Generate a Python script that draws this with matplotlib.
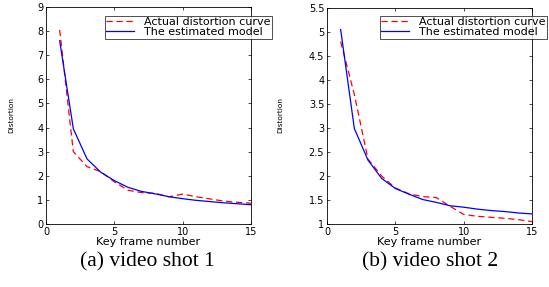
import matplotlib
matplotlib.use("Agg")
import matplotlib.pyplot as plt

plt.rcParams.update({
    "font.family": ["DejaVu Sans"],
    "font.size": 7,
    "xtick.direction": "in",
    "ytick.direction": "in",
    "xtick.top": True,
    "ytick.right": True,
    "xtick.major.size": 2.5,
    "ytick.major.size": 2.5,
    "axes.linewidth": 0.6,
})

frames = list(range(1, 16))

# shot 1
actual_1 = [8.05, 3.0, 2.38, 2.17, 1.75, 1.4, 1.3, 1.27, 1.13, 1.24, 1.13, 1.04, 0.95, 0.9, 0.86]
model_1 = [7.6, 3.95, 2.7, 2.15, 1.8, 1.52, 1.35, 1.25, 1.13, 1.05, 0.98, 0.93, 0.88, 0.84, 0.8]

# shot 2
actual_2 = [4.8, 3.7, 2.35, 2.0, 1.75, 1.63, 1.57, 1.55, 1.37, 1.2, 1.16, 1.14, 1.12, 1.09, 1.05]
model_2 = [5.05, 2.99, 2.33, 1.95, 1.74, 1.62, 1.51, 1.45, 1.38, 1.35, 1.31, 1.28, 1.26, 1.23, 1.21]

yticks_1 = list(range(0, 10))
yticks_2 = [1, 1.5, 2, 2.5, 3, 3.5, 4, 4.5, 5, 5.5]
ytick_labels_2 = ["1", "1.5", "2", "2.5", "3", "3.5", "4", "4.5", "5", "5.5"]
captions = ["(a) video shot 1", "(b) video shot 2"]

W, H = 549, 287
fig = plt.figure(figsize=(W / 100, H / 100), dpi=100)

def px_axes(x0, y0, x1, y1):
    return fig.add_axes([x0 / W, 1 - y1 / H, (x1 - x0) / W, (y1 - y0) / H])

ax1 = px_axes(46, 7, 251, 224)
ax2 = px_axes(327, 8, 532, 224)

panels = [
    (ax1, actual_1, model_1, (0, 9), yticks_1, [str(t) for t in yticks_1], 11, 272),
    (ax2, actual_2, model_2, (1, 5.5), yticks_2, ytick_labels_2, 280, 547),
]

for ax, act, mod, ylim, yt, ytl, ylab_x, leg_right in panels:
    ax.plot(frames, act, "--", color="red", lw=0.9, dashes=(5, 3),
            label="Actual distortion curve")
    ax.plot(frames, mod, "-", color="blue", lw=0.9, label="The estimated model")
    ax.set_xlim(0, 15)
    ax.set_ylim(*ylim)
    ax.set_xticks([0, 5, 10, 15])
    ax.set_yticks(yt)
    ax.set_yticklabels(ytl)
    ax.tick_params(labelsize=7, pad=2, width=0.5)
    ax.set_xlabel("Key frame number", fontsize=8, labelpad=0)
    leg = ax.legend(loc="upper right", bbox_to_anchor=(leg_right / W, 1 - 16 / H),
                    bbox_transform=fig.transFigure, fontsize=8,
                    frameon=True, fancybox=False, edgecolor="black",
                    borderpad=0.12, handlelength=2.5, labelspacing=0.0,
                    handletextpad=0.9, borderaxespad=0)
    leg.get_frame().set_linewidth(0.6)
    fig.text(ylab_x / W, 1 - 115 / H, "Distortion", rotation=90, fontsize=5.3,
             ha="center", va="center")

for cx, cap in zip([147, 430], captions):
    fig.text(cx / W, 1 - 262 / H, cap, family="Liberation Serif",
             fontsize=15.5, ha="center", va="center")

fig.savefig("out.png", dpi=100)
